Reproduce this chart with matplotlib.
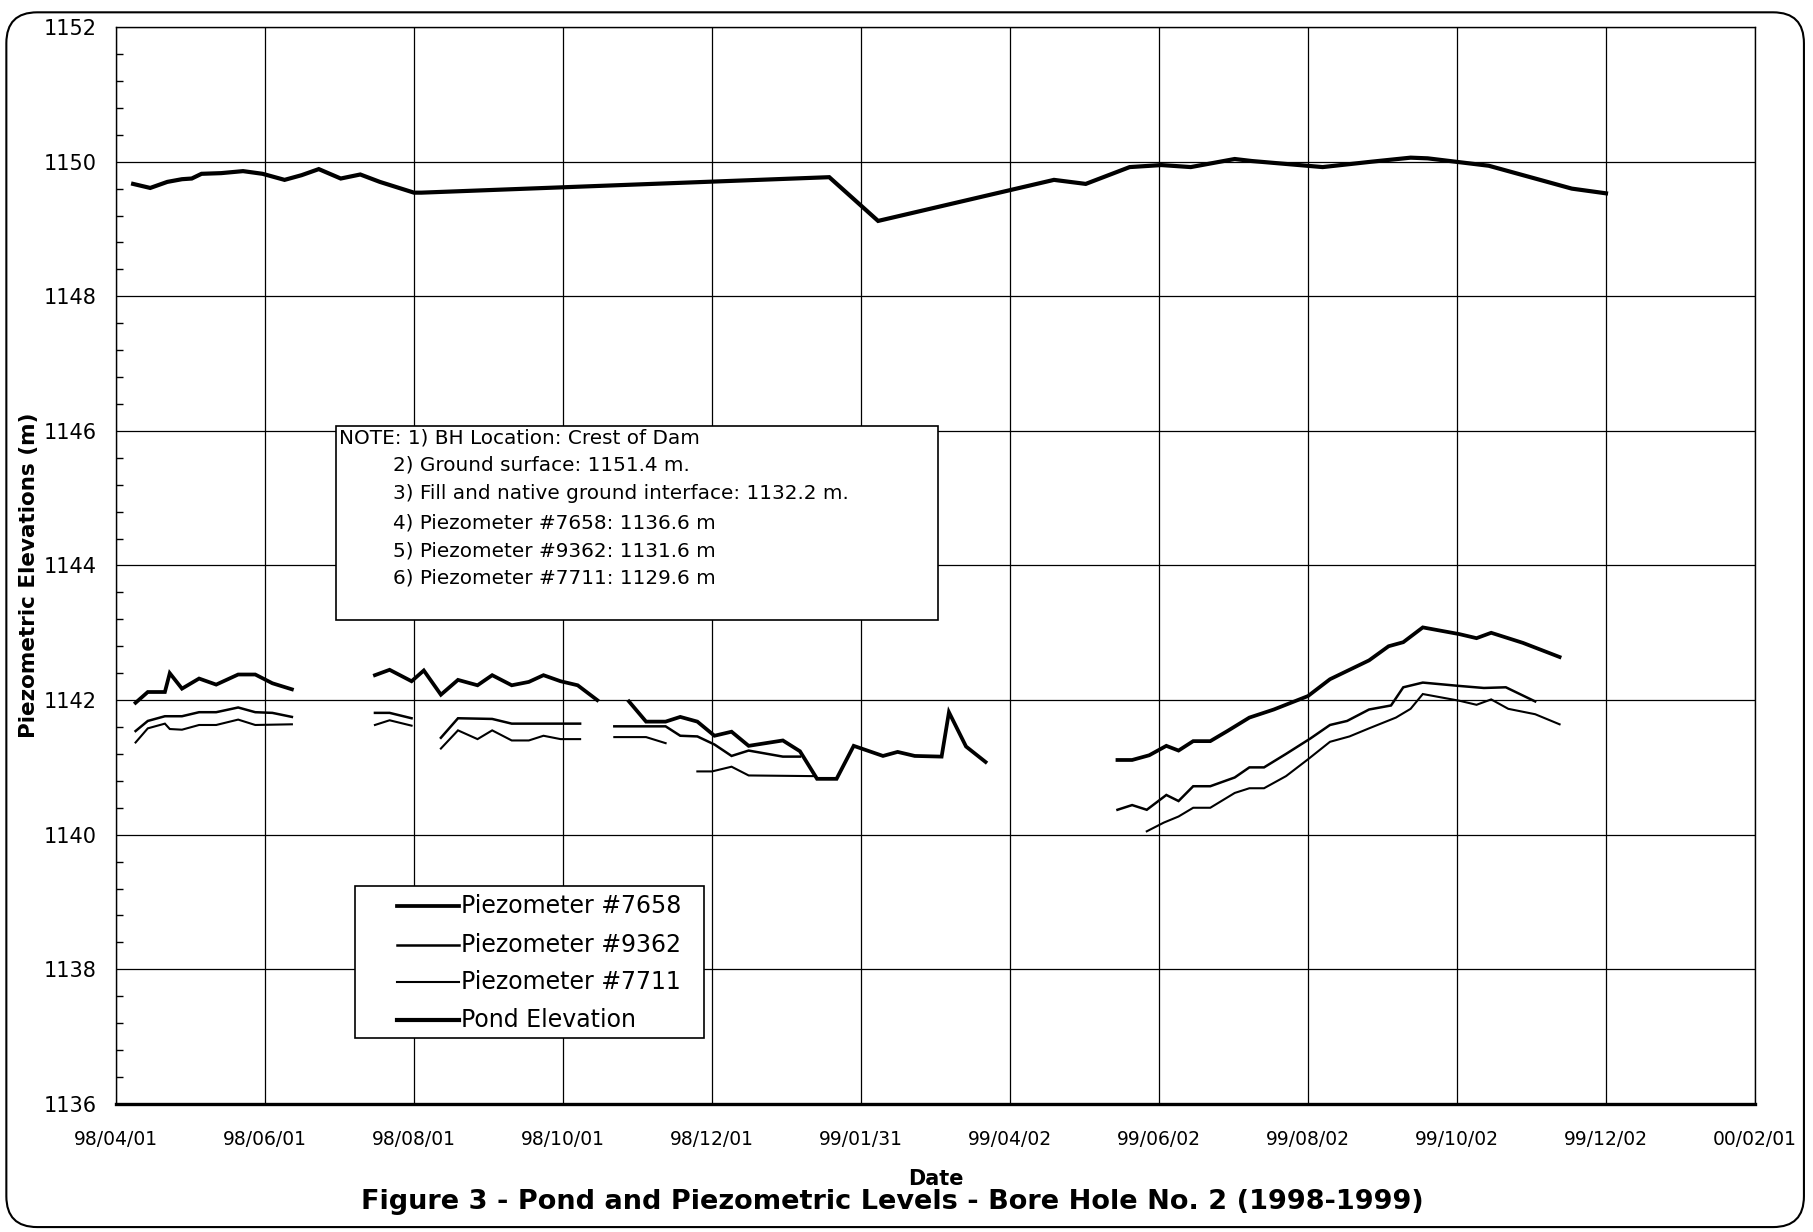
import matplotlib as mpl
mpl.use('Agg')

import matplotlib.pyplot as plt
import matplotlib.dates as mdates
from matplotlib.patches import Rectangle, FancyBboxPatch
from matplotlib.ticker import MultipleLocator
import pandas as pd

# DATI (None = interruzione della serie)
pond_dates = ['1998-04-08', '1998-04-15', '1998-04-22', '1998-04-28', '1998-05-02', '1998-05-06',
              '1998-05-14', '1998-05-23', '1998-05-31', '1998-06-09', '1998-06-16', '1998-06-23',
              '1998-07-02', '1998-07-10', '1998-07-18', '1998-08-01', '1998-08-04', '1999-01-18',
              '1999-02-07', '1999-04-20', '1999-05-03', '1999-05-21', '1999-06-03', '1999-06-15',
              '1999-07-03', '1999-07-10', '1999-08-08', '1999-08-28', '1999-09-13', '1999-09-20',
              '1999-10-15', '1999-11-18', '1999-12-02']
pond = [1149.67, 1149.61, 1149.70, 1149.74, 1149.75, 1149.82,
        1149.83, 1149.86, 1149.82, 1149.73, 1149.80, 1149.89,
        1149.75, 1149.81, 1149.70, 1149.54, 1149.54, 1149.77,
        1149.12, 1149.73, 1149.67, 1149.92, 1149.95, 1149.92,
        1150.04, 1150.01, 1149.92, 1150.00, 1150.06, 1150.05,
        1149.94, 1149.60, 1149.53]

p7658_dates = ['1998-04-09', '1998-04-14', '1998-04-21', '1998-04-23', '1998-04-28', '1998-05-05',
               '1998-05-12', '1998-05-21', '1998-05-28', '1998-06-04', '1998-06-12', None,
               '1998-07-16', '1998-07-22', '1998-07-31', '1998-08-05', '1998-08-12', '1998-08-19',
               '1998-08-27', '1998-09-02', '1998-09-10', '1998-09-17', '1998-09-23', '1998-09-30',
               '1998-10-07', '1998-10-15', None,
               '1998-10-28', '1998-11-04', '1998-11-12', '1998-11-18', '1998-11-25', '1998-12-02',
               '1998-12-09', '1998-12-16', '1998-12-30', '1999-01-06', '1999-01-13', '1999-01-21',
               '1999-01-28', '1999-02-09', '1999-02-15', '1999-02-22', '1999-03-05', '1999-03-08',
               '1999-03-15', '1999-03-23', None,
               '1999-05-16', '1999-05-22', '1999-05-29', '1999-06-05', '1999-06-10', '1999-06-16',
               '1999-06-23', '1999-06-30', '1999-07-09', '1999-07-19', '1999-08-02', '1999-08-11',
               '1999-08-19', '1999-08-27', '1999-09-04', '1999-09-10', '1999-09-18', '1999-10-03',
               '1999-10-10', '1999-10-16', '1999-10-29', '1999-11-13']
p7658 = [1141.96, 1142.12, 1142.12, 1142.40, 1142.17, 1142.32,
         1142.23, 1142.38, 1142.38, 1142.25, 1142.16, None,
         1142.37, 1142.45, 1142.28, 1142.44, 1142.08, 1142.30,
         1142.22, 1142.37, 1142.22, 1142.27, 1142.37, 1142.28,
         1142.22, 1142.00, None,
         1141.98, 1141.68, 1141.68, 1141.75, 1141.68, 1141.47,
         1141.53, 1141.32, 1141.40, 1141.24, 1140.83, 1140.83,
         1141.32, 1141.17, 1141.23, 1141.17, 1141.16, 1141.82,
         1141.31, 1141.08, None,
         1141.11, 1141.11, 1141.18, 1141.32, 1141.25, 1141.39,
         1141.39, 1141.54, 1141.74, 1141.86, 1142.06, 1142.31,
         1142.45, 1142.59, 1142.80, 1142.86, 1143.08, 1142.98,
         1142.92, 1143.00, 1142.85, 1142.64]

p9362_dates = ['1998-04-09', '1998-04-14', '1998-04-21', '1998-04-28', '1998-05-05', '1998-05-12',
               '1998-05-21', '1998-05-28', '1998-06-04', '1998-06-12', None,
               '1998-07-16', '1998-07-22', '1998-07-31', None,
               '1998-08-12', '1998-08-19', '1998-09-02', '1998-09-10', '1998-10-08', None,
               '1998-10-22', '1998-11-12', '1998-11-18', '1998-11-25', '1998-12-02', '1998-12-09',
               '1998-12-16', '1998-12-30', '1999-01-06', None,
               '1999-05-16', '1999-05-22', '1999-05-28', '1999-06-05', '1999-06-10', '1999-06-16',
               '1999-06-23', '1999-07-03', '1999-07-09', '1999-07-15', '1999-07-24', '1999-08-03',
               '1999-08-11', '1999-08-18', '1999-08-27', '1999-09-05', '1999-09-10', '1999-09-18',
               '1999-10-03', '1999-10-13', '1999-10-22', '1999-11-03']
p9362 = [1141.54, 1141.69, 1141.76, 1141.76, 1141.82, 1141.82,
         1141.89, 1141.82, 1141.81, 1141.75, None,
         1141.81, 1141.81, 1141.73, None,
         1141.44, 1141.73, 1141.72, 1141.65, 1141.65, None,
         1141.61, 1141.61, 1141.47, 1141.46, 1141.34, 1141.17,
         1141.25, 1141.16, 1141.16, None,
         1140.37, 1140.44, 1140.37, 1140.59, 1140.50, 1140.72,
         1140.72, 1140.85, 1141.00, 1141.00, 1141.20, 1141.43,
         1141.63, 1141.69, 1141.86, 1141.92, 1142.19, 1142.26,
         1142.21, 1142.18, 1142.19, 1141.98]

p7711_dates = ['1998-04-09', '1998-04-14', '1998-04-21', '1998-04-23', '1998-04-28', '1998-05-05',
               '1998-05-12', '1998-05-21', '1998-05-28', '1998-06-12', None,
               '1998-07-16', '1998-07-22', '1998-07-31', None,
               '1998-08-12', '1998-08-19', '1998-08-27', '1998-09-02', '1998-09-10', '1998-09-17',
               '1998-09-23', '1998-09-30', '1998-10-08', None,
               '1998-10-22', '1998-11-04', '1998-11-12', None,
               '1998-11-25', '1998-12-01', '1998-12-09', '1998-12-16', '1999-01-12', None,
               '1999-05-28', '1999-06-04', '1999-06-10', '1999-06-16', '1999-06-23', '1999-07-03',
               '1999-07-09', '1999-07-15', '1999-07-24', '1999-08-02', '1999-08-11', '1999-08-19',
               '1999-08-27', '1999-09-07', '1999-09-13', '1999-09-18', '1999-10-03', '1999-10-10',
               '1999-10-16', '1999-10-23', '1999-11-03', '1999-11-13']
p7711 = [1141.37, 1141.58, 1141.65, 1141.57, 1141.56, 1141.63,
         1141.63, 1141.71, 1141.63, 1141.64, None,
         1141.63, 1141.70, 1141.62, None,
         1141.28, 1141.55, 1141.42, 1141.55, 1141.40, 1141.40,
         1141.47, 1141.42, 1141.42, None,
         1141.45, 1141.45, 1141.36, None,
         1140.94, 1140.94, 1141.01, 1140.88, 1140.87, None,
         1140.05, 1140.18, 1140.27, 1140.40, 1140.40, 1140.62,
         1140.69, 1140.69, 1140.87, 1141.12, 1141.38, 1141.46,
         1141.58, 1141.74, 1141.87, 1142.09, 1141.99, 1141.93,
         1142.01, 1141.87, 1141.79, 1141.64]

tick_dates = ['1998-04-01', '1998-06-01', '1998-08-01', '1998-10-01', '1998-12-01', '1999-01-31',
              '1999-04-02', '1999-06-02', '1999-08-02', '1999-10-02', '1999-12-02', '2000-02-01']

note_lines = ['NOTE: 1) BH Location: Crest of Dam',
              '2) Ground surface: 1151.4 m.',
              '3) Fill and native ground interface: 1132.2 m.',
              '4) Piezometer #7658: 1136.6 m',
              '5) Piezometer #9362: 1131.6 m',
              '6) Piezometer #7711: 1129.6 m']


def segments(dates, vals):
    # divide la serie nei tratti separati da None
    segs = []
    cur_d, cur_v = [], []
    for d, v in zip(dates, vals):
        if d is None:
            segs.append((cur_d, cur_v))
            cur_d, cur_v = [], []
        else:
            cur_d.append(pd.Timestamp(d))
            cur_v.append(v)
    segs.append((cur_d, cur_v))
    return segs


fig = plt.figure(figsize=(18.13, 12.32), dpi=100)
ax = fig.add_axes([0.064, 0.104, 0.904, 0.874])

# SERIE
series = [(p7658_dates, p7658, 'Piezometer #7658', 2.7),
          (p9362_dates, p9362, 'Piezometer #9362', 1.8),
          (p7711_dates, p7711, 'Piezometer #7711', 1.5),
          (pond_dates, pond, 'Pond Elevation', 3.0)]

for dates, vals, name, lw in series:
    for d, v in segments(dates, vals):
        ax.plot(d, v, '-', color='black', lw=lw, solid_joinstyle='miter')

# ASSI
ax.set_xlim(pd.Timestamp('1998-04-01'), pd.Timestamp('2000-02-01'))
ax.set_ylim(1136, 1152)
ax.set_xticks([pd.Timestamp(t) for t in tick_dates])
ax.xaxis.set_major_formatter(mdates.DateFormatter('%y/%m/%d'))
ax.yaxis.set_major_locator(MultipleLocator(2))
ax.yaxis.set_minor_locator(MultipleLocator(0.4))
ax.grid(True, which='major', color='black', lw=0.9)
ax.tick_params(axis='x', which='major', length=0, pad=19, labelsize=13.5)
ax.tick_params(axis='y', which='major', length=0, pad=14, labelsize=15)
ax.tick_params(axis='y', which='minor', direction='in', length=5, width=1)
for s in ax.spines.values():
    s.set_linewidth(1.0)
ax.spines['bottom'].set_linewidth(2.4)

# NOTA
ax.add_patch(Rectangle((0.134, 0.449), 0.3675, 0.181, transform=ax.transAxes,
                       facecolor='white', edgecolor='black', lw=1.2, zorder=5))
note_y = [0.618, 0.593, 0.567, 0.539, 0.513, 0.488]
for i, line in enumerate(note_lines):
    ax.text(0.136 if i == 0 else 0.169, note_y[i], line, transform=ax.transAxes,
            fontsize=14.4, va='center', ha='left', zorder=6)

# LEGENDA (disegnata a mano)
ax.add_patch(Rectangle((0.1458, 0.0613), 0.2129, 0.1411, transform=ax.transAxes,
                       facecolor='white', edgecolor='black', lw=1.2, zorder=5))
leg_y = [0.1838, 0.1476, 0.1133, 0.0780]
for (dates, vals, name, lw), y in zip(series, leg_y):
    ax.plot([0.1714, 0.2093], [y, y], color='black', lw=lw, transform=ax.transAxes, zorder=6)
    ax.text(0.2105, y, name, transform=ax.transAxes, fontsize=17, va='center', ha='left',
            zorder=6)

# TESTI
fig.text(0.016, 0.533, 'Piezometric Elevations (m)', rotation=90, ha='center', va='center',
         fontsize=15.5, fontweight='bold')
fig.text(0.516, 0.043, 'Date', ha='center', va='center', fontsize=15, fontweight='bold')
fig.text(0.492, 0.024, 'Figure 3 - Pond and Piezometric Levels - Bore Hole No. 2 (1998-1999)',
         ha='center', va='center', fontsize=19.5, fontweight='bold')

# CORNICE ARROTONDATA
fig.patches.append(FancyBboxPatch((0.0035, 0.004), 0.9915, 0.986,
                                  boxstyle='round,pad=0,rounding_size=0.017',
                                  mutation_aspect=1813 / 1232, transform=fig.transFigure,
                                  fill=False, edgecolor='black', lw=1.5))

fig.savefig('out.png', dpi=100)
